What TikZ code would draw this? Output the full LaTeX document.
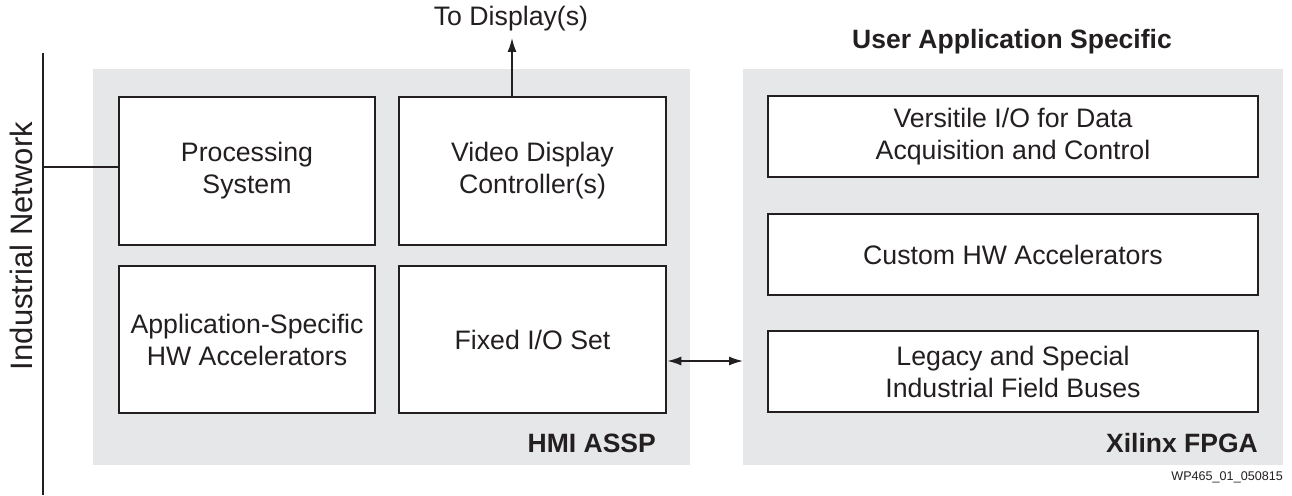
\documentclass[tikz,border=0pt]{standalone}
\usepackage{fontspec}
\setmainfont{Liberation Sans}
\usetikzlibrary{arrows.meta}
\definecolor{panelgray}{HTML}{E6E7E8}
\definecolor{ink}{HTML}{231F20}
\begin{document}
\begin{tikzpicture}[x=1pt, y=-1pt, line cap=butt, line join=miter, font=\fontsize{26.7}{32}\selectfont, >={Latex[length=14pt,width=9pt]}, color=ink]
	\tikzset{panel/.style={fill=panelgray, draw=none},
		blk/.style={draw=ink, fill=white, line width=2.6pt, align=center, inner sep=0pt},
		tag/.style={font=\fontsize{26.5}{31}\selectfont\bfseries, inner sep=0pt}}
	\useasboundingbox (0,0) rectangle (1292,495);
	% two chips
	\fill[panel] (93,69) rectangle (690,465);
	\fill[panel] (743,69) rectangle (1283,465);
	% HMI ASSP blocks
	\node[blk, minimum width=256pt, minimum height=148pt] (ps) at (247,171) {Processing\\System};
	\node[blk, minimum width=267pt, minimum height=148pt] (vdc) at (532.5,171) {Video Display\\Controller(s)};
	\node[blk, minimum width=256pt, minimum height=147pt] (asa) at (247,339.5) {Application-Specific\\HW Accelerators};
	\node[blk, minimum width=267pt, minimum height=147pt] (fio) at (532.5,339.5) {Fixed I/O Set};
	% FPGA blocks
	\node[blk, minimum width=490pt, minimum height=81pt] (vio) at (1013,136.5) {Versitile I/O for Data\\Acquisition and Control};
	\node[blk, minimum width=490pt, minimum height=81pt] (chw) at (1013,254.5) {Custom HW Accelerators};
	\node[blk, minimum width=490pt, minimum height=81pt] (leg) at (1013,371.5) {Legacy and Special\\Industrial Field Buses};
	\node[tag, anchor=east] (hmi) at (656,443) {HMI ASSP};
	\node[tag, anchor=east] (fpga) at (1258,443) {Xilinx FPGA};
	\node[tag] (uas) at (1012,42) {User Application Specific};
	% network bus
	\coordinate (nt) at (43,53);
	\coordinate (nb) at (43,495);
	\draw[line width=2pt] (nt) -- (nb);
	\draw[line width=2pt] (ps.west |- 0,167) -- (43,167);
	\node[rotate=90, font=\fontsize{31}{36}\selectfont] (net) at (21,246) {Industrial Network};
	% display output
	\coordinate (disp) at (512,38);
	\node[inner sep=0pt] (todisp) at (511,19) {To Display(s)};
	\draw[->, line width=1.5pt] (disp |- vdc.north) -- (disp);
	% fixed I/O to FPGA
	\coordinate (io) at (743,361);
	\draw[<->, line width=1.5pt] (io -| fio.east) -- (io);
	\node[anchor=east, font=\fontsize{12.6}{15}\selectfont, inner sep=0pt] (wp) at (1283,477) {WP465\_01\_050815};
\end{tikzpicture}
\end{document}
